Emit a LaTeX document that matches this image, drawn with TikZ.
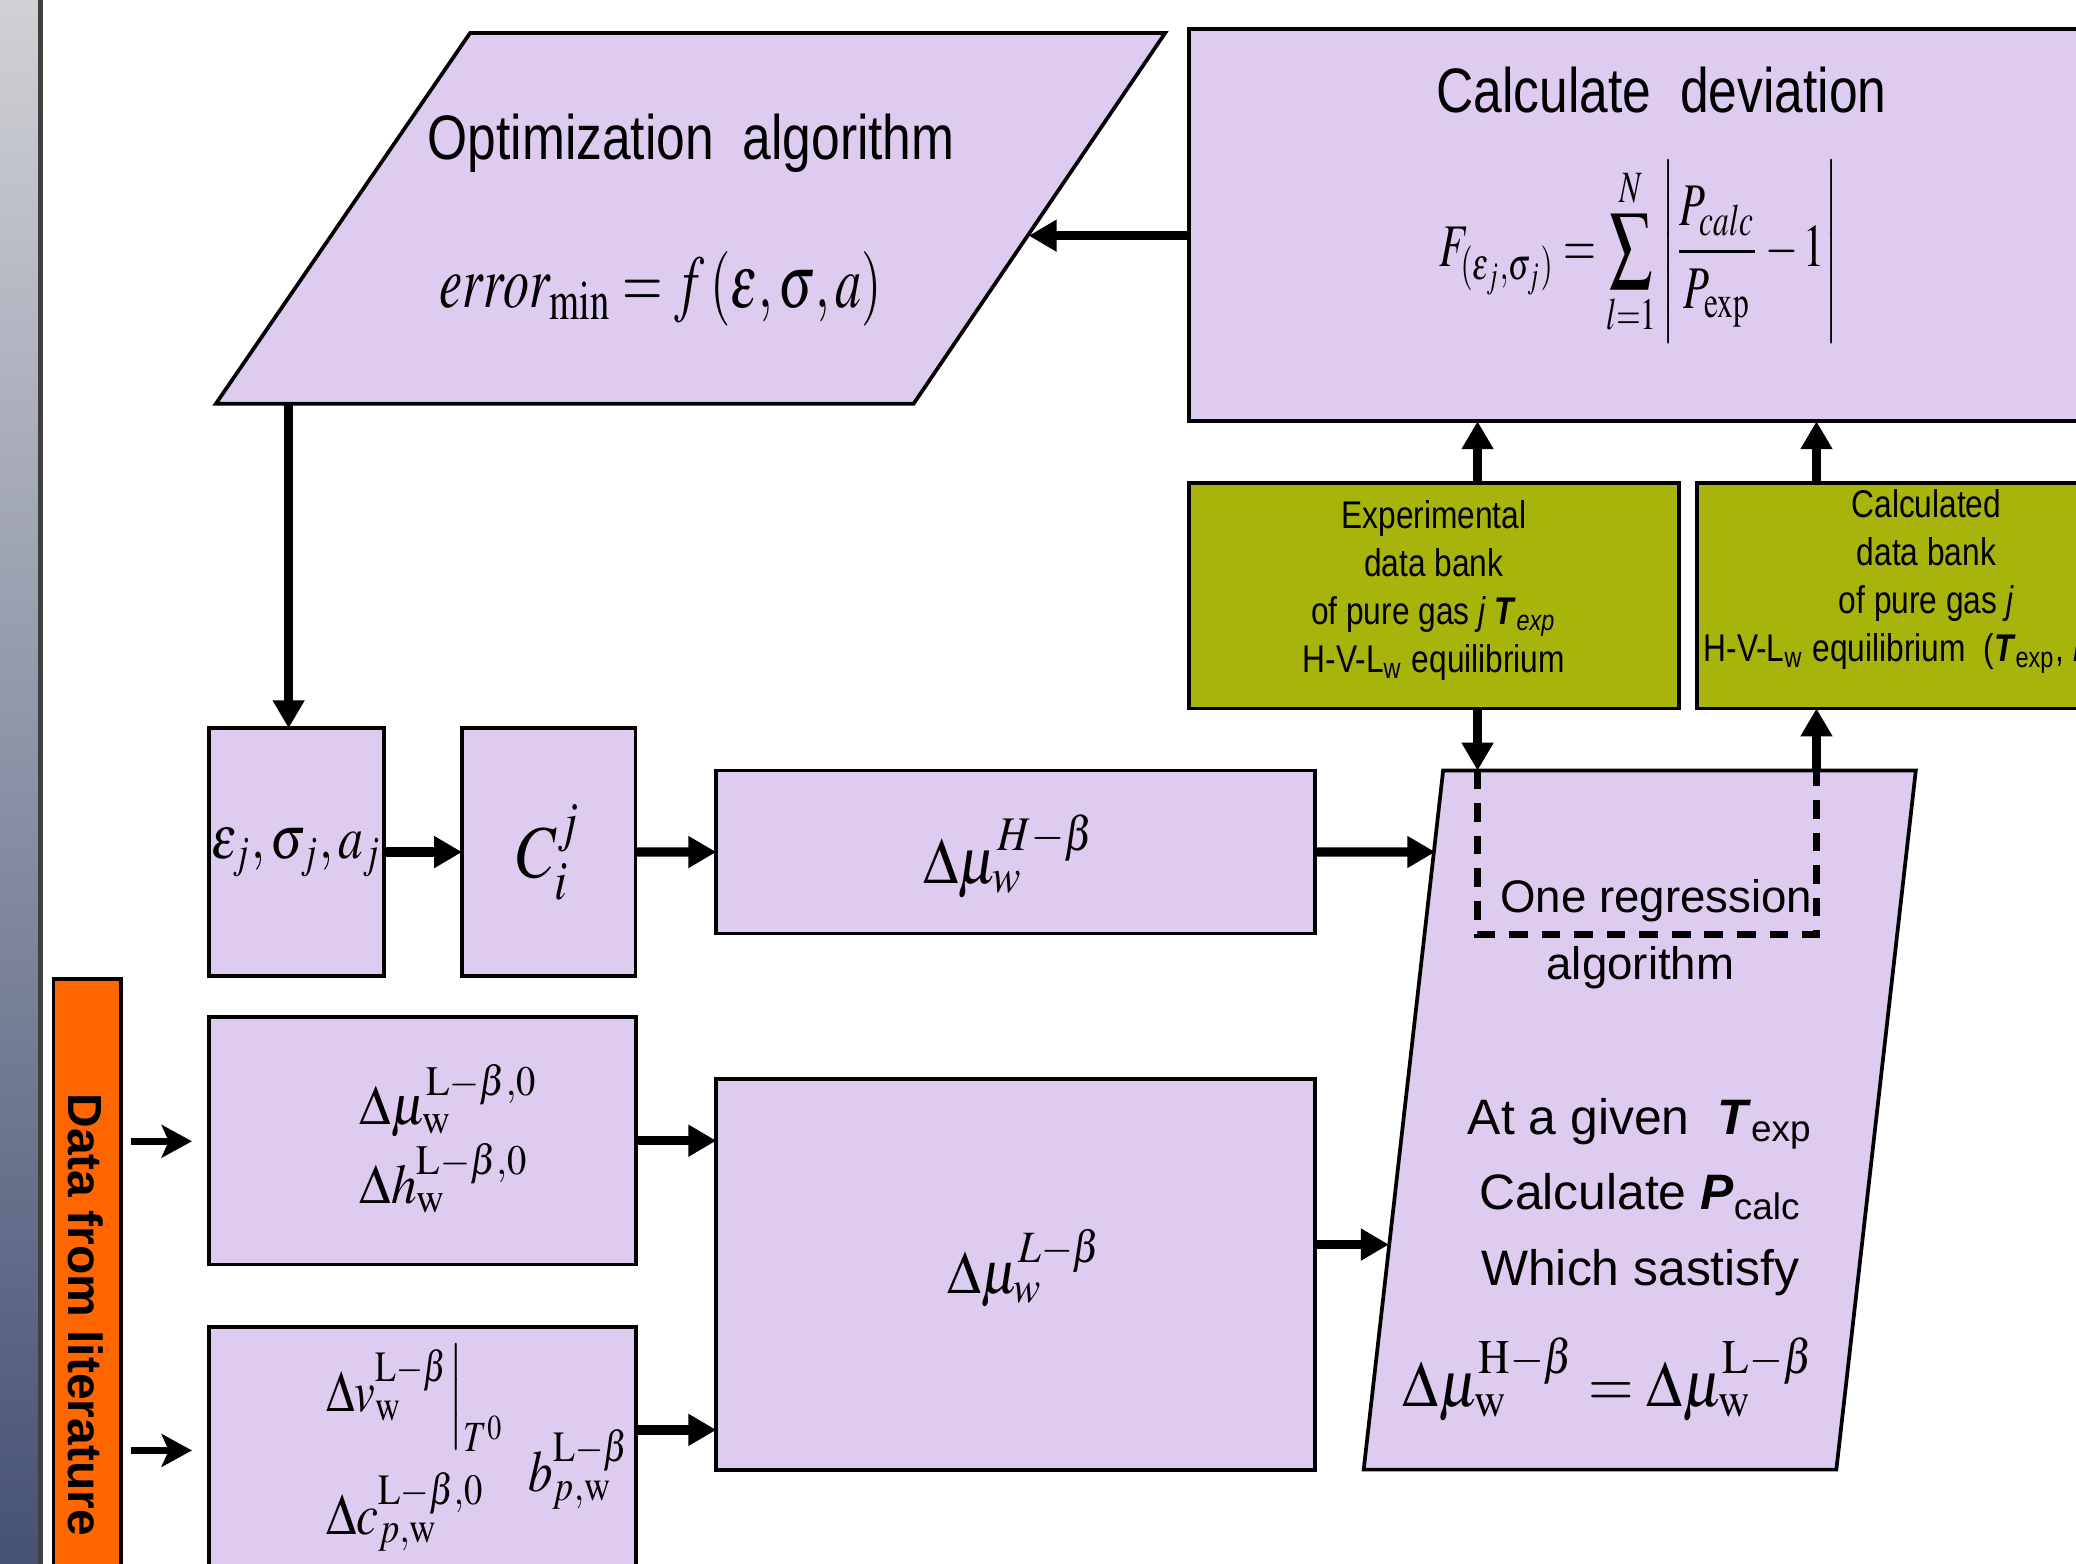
\documentclass[tikz,border=0pt]{standalone}
\usepackage{mathptmx}
\usepackage[no-math]{fontspec}
\setmainfont{Liberation Sans}
\newfontfamily\narrowsans[FakeStretch=0.82]{Liberation Sans}
\usepackage{graphicx}
\usetikzlibrary{arrows.meta,calc}

\definecolor{boxlilac}{RGB}{221,204,240}
\definecolor{bankgreen}{RGB}{168,180,12}
\definecolor{litorange}{RGB}{255,102,0}
\definecolor{bartop}{RGB}{208,209,213}
\definecolor{barbottom}{RGB}{70,82,116}

\tikzset{
  flowshape/.style={draw=black, line width=0.8pt, fill=boxlilac},
  flowbox/.style={flowshape, anchor=north west, inner sep=0pt, outer sep=0pt},
  bankbox/.style={draw=black, line width=0.8pt, fill=bankgreen, anchor=north west,
    inner sep=0pt, outer sep=0pt},
  banktext/.style={align=center, font=\narrowsans\fontsize{8.3}{10.3}\selectfont},
  flowarrow/.style={line width=2pt, -{Triangle[length=6pt,width=6.5pt]}},
  litarrow/.style={line width=1.6pt, -{Stealth[length=6.5pt,width=7pt,inset=1.5pt]}},
  loopline/.style={line width=1.4pt, dash pattern=on 4pt off 3pt},
}

\begin{document}
\begin{tikzpicture}[x=0.01cm, y=-0.01cm]
\useasboundingbox (0,0) rectangle (1568,1181);
\clip (0,0) rectangle (1568,1181);

% Side bar
\shade[top color=bartop, bottom color=barbottom] (0,0) rectangle (30,1181);
\draw[line width=1pt, black!75] (30.5,0) -- (30.5,1181);

% Optimization parallelogram
\coordinate (optB) at (218,305);
\coordinate (optR) at (777,178);
\draw[flowshape] (355,25) -- (880,25) -- (690,305) -- (163,305) -- cycle;
\node[font=\narrowsans\fontsize{13.5}{16}\selectfont] (optTitle) at (522,108) {Optimization\ \ algorithm};
\node[font=\fontsize{16}{19}\selectfont] (optEq) at (499,218)
  {\scalebox{0.7}[1]{$error_{\min} = f\left(\varepsilon,\sigma,a\right)$}};

% Deviation box
\node[flowbox, minimum width=7.5cm, minimum height=2.96cm] (calc) at (898,22) {};
\node[font=\narrowsans\fontsize{13.5}{16}\selectfont] (calcTitle) at (1255,68) {Calculate\ \ deviation};
\node[font=\fontsize{13}{16}\selectfont] (calcEq) at (1238,190)
  {\scalebox{0.7}[1]{$\displaystyle F_{(\varepsilon_j,\sigma_j)} = \sum_{l=1}^{N}\left|\rule[-1.35em]{0pt}{3.2em}\frac{P_{calc}}{P_{\mathrm{exp}}}-1\right|$}};

% Data banks
\node[bankbox, minimum width=3.70cm, minimum height=1.70cm] (exp) at (898,365) {};
\node[banktext] (expText) at (1083,446)
  {Experimental\\data bank\\of pure gas \textit{j} \textbf{\textit{T}}\textsubscript{\textit{exp}}\\H-V-L\textsubscript{w} equilibrium};
\node[bankbox, minimum width=3.46cm, minimum height=1.70cm] (calcd) at (1282,365) {};
\node[banktext] (calcdText) at (1455,439)
  {Calculated\\data bank\\of pure gas \textit{j}\\H-V-L\textsubscript{w} equilibrium\ \ (\textbf{\textit{T}}\textsubscript{exp}, \textbf{\textit{P}}\textsubscript{calc})};

% Parameter boxes
\node[flowbox, minimum width=1.32cm, minimum height=1.87cm, font=\fontsize{13}{16}\selectfont] (eps) at (158,550)
  {\scalebox{0.82}[1]{$\varepsilon_j,\sigma_j,a_j$}};
\node[flowbox, minimum width=1.31cm, minimum height=1.87cm, font=\fontsize{16}{19}\selectfont] (cij) at (349,550)
  {\scalebox{0.85}[1]{$C_i^j$}};
\node[flowbox, minimum width=4.52cm, minimum height=1.23cm] (muH) at (541,582) {};
\node[font=\fontsize{14}{17}\selectfont] (muHText) at (762,647)
  {\scalebox{0.88}[1]{$\Delta\mu_w^{H-\beta}$}};

% Literature boxes
\node[flowbox, minimum width=3.22cm, minimum height=1.87cm] (mu0) at (158,768) {};
\node[align=left, font=\fontsize{12}{17}\selectfont] (mu0Text) at (339,860)
  {\scalebox{0.92}[1]{$\Delta\mu_{\mathrm{w}}^{\mathrm{L}-\beta,0}$}\\\scalebox{0.92}[1]{$\Delta h_{\mathrm{w}}^{\mathrm{L}-\beta,0}$}};
\node[flowbox, minimum width=3.22cm, minimum height=1.87cm] (dv) at (158,1002) {};
\node[anchor=west, font=\fontsize{12.5}{15}\selectfont] (dvV) at (234,1056)
  {\scalebox{0.8}[1]{$\Delta v_{\mathrm{w}}^{\mathrm{L}-\beta}\Big|_{T^0}$}};
\node[anchor=west, font=\fontsize{12.5}{15}\selectfont] (dvC) at (234,1142)
  {\scalebox{0.85}[1]{$\Delta c_{p,\mathrm{w}}^{\mathrm{L}-\beta,0}$}};
\node[anchor=west, font=\fontsize{12.5}{15}\selectfont] (dvB) at (387,1110)
  {\scalebox{0.84}[1]{$b_{p,\mathrm{w}}^{\mathrm{L}-\beta}$}};
\node[flowbox, minimum width=4.52cm, minimum height=2.95cm] (muL) at (541,815) {};
\node[font=\fontsize{13}{16}\selectfont] (muLText) at (774,958)
  {\scalebox{0.91}[1]{$\Delta\mu_w^{L-\beta}$}};

\node[draw=black, line width=0.8pt, fill=litorange, anchor=north west, minimum width=0.51cm,
  minimum height=5.1cm, inner sep=0pt] (lit) at (39,738) {};
\node[rotate=-90, font=\bfseries\fontsize{10.3}{12}\selectfont] (litText) at (65,993) {Data from literature};

% Regression parallelogram
\coordinate (regL1) at (1084,643.5);
\coordinate (regL2) at (1049,940);
\coordinate (regTA) at (1116,582);
\coordinate (regTB) at (1372,582);
\coordinate (loopA) at (1116,706);
\coordinate (loopB) at (1372,706);
\draw[flowshape] (1090,582) -- (1447,582) -- (1387,1110) -- (1030,1110) -- cycle;
\node[font=\fontsize{9.8}{12}\selectfont] (regOne) at (1251,680) {One regression};
\node[font=\fontsize{9.8}{12}\selectfont] (regAlg) at (1239,731) {algorithm};
\node[align=center, font=\fontsize{10.7}{16.2}\selectfont] (regCond) at (1239,904)
  {At a given \ \textbf{\textit{T}}\textsubscript{exp}\\Calculate \textbf{\textit{P}}\textsubscript{calc}\\Which sastisfy};
\node[font=\fontsize{14}{17}\selectfont] (regEq) at (1215,1042)
  {\scalebox{0.9}[1]{$\Delta\mu_{\mathrm{w}}^{\mathrm{H}-\beta} = \Delta\mu_{\mathrm{w}}^{\mathrm{L}-\beta}$}};

% Connectors
\coordinate (colA) at (1116,0);
\coordinate (colB) at (1372,0);
\coordinate (dvOut) at (0,1080);
\coordinate (litA) at (99,862);
\coordinate (litB) at (99,1095.5);
\draw[flowarrow] (calc.west |- optR) -- (optR);
\draw[flowarrow] (optB) -- (optB |- eps.north);
\draw[flowarrow] (eps) -- (cij);
\draw[flowarrow] (cij) -- (muH);
\draw[flowarrow] (muH) -- (regL1);
\draw[flowarrow] (exp.north -| colA) -- (calc.south -| colA);
\draw[flowarrow] (calcd.north -| colB) -- (calc.south -| colB);
\draw[flowarrow] (exp.south -| colA) -- (regTA);
\draw[flowarrow] (regTB) -- (calcd.south -| colB);
\draw[loopline] (regTA) -- (loopA) -- (loopB) -- (regTB);
\draw[flowarrow] (mu0.east) -- (mu0.east -| muL.west);
\draw[flowarrow] (dv.east |- dvOut) -- (muL.west |- dvOut);
\draw[flowarrow] (muL.east |- regL2) -- (regL2);
\draw[litarrow, shorten >=3.7pt] (litA) -- (litA -| mu0.west);
\draw[litarrow, shorten >=3.7pt] (litB) -- (litB -| dv.west);

\end{tikzpicture}
\end{document}
